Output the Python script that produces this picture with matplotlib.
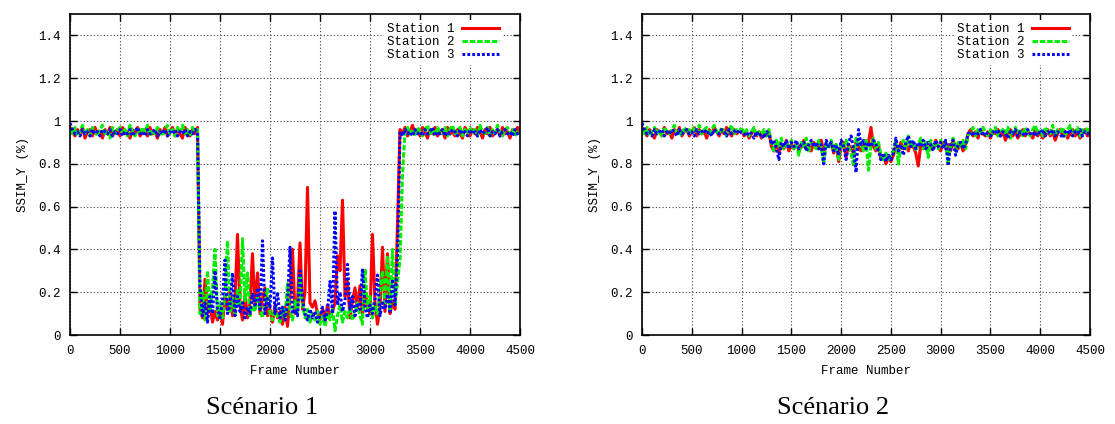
import numpy as np
import matplotlib
matplotlib.use('agg')
import matplotlib.pyplot as plt
from matplotlib.ticker import FuncFormatter

# frame numbers, one sample every 25 frames (0 .. 4500)
frames = np.arange(0, 4501, 25)

labels = ['Station 1', 'Station 2', 'Station 3']

# scenario 1 : SSIM_Y
s1_station1 = [
	0.97, 0.95, 0.93, 0.96, 0.94, 0.97, 0.92, 0.95, 0.96, 0.93, 0.97, 0.94, 0.95, 0.92, 0.96, 0.94, 0.97, 0.93, 0.95, 0.96,
	0.93, 0.97, 0.94, 0.95, 0.92, 0.96, 0.94, 0.97, 0.93, 0.95, 0.96, 0.93, 0.97, 0.94, 0.95, 0.92, 0.96, 0.94, 0.97, 0.93,
	0.95, 0.97, 0.93, 0.96, 0.94, 0.92, 0.97, 0.95, 0.93, 0.96, 0.94, 0.97, 0.12, 0.08, 0.26, 0.10, 0.14, 0.06, 0.11, 0.07,
	0.13, 0.05, 0.18, 0.12, 0.20, 0.09, 0.16, 0.47, 0.14, 0.07, 0.19, 0.08, 0.15, 0.38, 0.12, 0.29, 0.10, 0.17, 0.22, 0.09,
	0.12, 0.06, 0.14, 0.08, 0.11, 0.05, 0.13, 0.04, 0.18, 0.40, 0.10, 0.15, 0.43, 0.12, 0.20, 0.69, 0.15, 0.13, 0.16, 0.10,
	0.07, 0.12, 0.06, 0.14, 0.09, 0.11, 0.15, 0.37, 0.30, 0.63, 0.18, 0.25, 0.08, 0.16, 0.22, 0.12, 0.23, 0.10, 0.20, 0.14,
	0.10, 0.47, 0.15, 0.05, 0.13, 0.41, 0.11, 0.38, 0.10, 0.16, 0.12, 0.51, 0.96, 0.94, 0.97, 0.93, 0.95, 0.98, 0.94, 0.96,
	0.93, 0.97, 0.95, 0.92, 0.96, 0.94, 0.97, 0.93, 0.95, 0.96, 0.92, 0.97, 0.94, 0.95, 0.93, 0.96, 0.94, 0.92, 0.97, 0.95,
	0.93, 0.96, 0.94, 0.97, 0.95, 0.92, 0.96, 0.94, 0.97, 0.93, 0.95, 0.96, 0.93, 0.97, 0.94, 0.95, 0.92, 0.96, 0.94, 0.97,
	0.95]
s1_station2 = [
	0.96, 0.94, 0.97, 0.93, 0.95, 0.98, 0.94, 0.96, 0.93, 0.97, 0.95, 0.93, 0.96, 0.98, 0.94, 0.95, 0.92, 0.97, 0.94, 0.96,
	0.97, 0.94, 0.96, 0.93, 0.98, 0.95, 0.93, 0.96, 0.94, 0.97, 0.95, 0.98, 0.93, 0.96, 0.94, 0.97, 0.95, 0.93, 0.96, 0.98,
	0.94, 0.96, 0.93, 0.97, 0.95, 0.98, 0.94, 0.96, 0.93, 0.97, 0.95, 0.96, 0.10, 0.20, 0.07, 0.30, 0.12, 0.22, 0.40, 0.09,
	0.15, 0.08, 0.19, 0.44, 0.11, 0.17, 0.10, 0.21, 0.13, 0.45, 0.16, 0.29, 0.09, 0.14, 0.11, 0.18, 0.12, 0.08, 0.15, 0.22,
	0.10, 0.07, 0.13, 0.09, 0.06, 0.12, 0.08, 0.24, 0.11, 0.07, 0.16, 0.10, 0.27, 0.14, 0.08, 0.12, 0.06, 0.10, 0.07, 0.11,
	0.05, 0.09, 0.04, 0.10, 0.07, 0.12, 0.02, 0.09, 0.14, 0.06, 0.11, 0.08, 0.13, 0.07, 0.10, 0.15, 0.09, 0.05, 0.31, 0.12,
	0.18, 0.08, 0.14, 0.10, 0.21, 0.30, 0.15, 0.37, 0.12, 0.40, 0.14, 0.25, 0.35, 0.75, 0.95, 0.97, 0.94, 0.96, 0.93, 0.97,
	0.95, 0.93, 0.96, 0.98, 0.94, 0.96, 0.93, 0.97, 0.95, 0.94, 0.97, 0.93, 0.96, 0.98, 0.94, 0.95, 0.97, 0.93, 0.96, 0.94,
	0.97, 0.94, 0.96, 0.93, 0.98, 0.95, 0.94, 0.97, 0.93, 0.96, 0.94, 0.98, 0.95, 0.93, 0.96, 0.97, 0.94, 0.96, 0.93, 0.95,
	0.96]
s1_station3 = [
	0.99, 0.96, 0.94, 0.95, 0.93, 0.96, 0.94, 0.95, 0.93, 0.96, 0.94, 0.95, 0.93, 0.96, 0.95, 0.94, 0.96, 0.93, 0.95, 0.94,
	0.96, 0.93, 0.95, 0.94, 0.96, 0.93, 0.95, 0.97, 0.94, 0.95, 0.93, 0.96, 0.94, 0.95, 0.96, 0.93, 0.95, 0.94, 0.96, 0.93,
	0.95, 0.94, 0.96, 0.93, 0.95, 0.94, 0.96, 0.93, 0.95, 0.94, 0.96, 0.95, 0.23, 0.09, 0.15, 0.06, 0.18, 0.10, 0.30, 0.12,
	0.08, 0.16, 0.35, 0.10, 0.14, 0.29, 0.09, 0.18, 0.11, 0.15, 0.08, 0.13, 0.10, 0.19, 0.14, 0.22, 0.12, 0.44, 0.10, 0.17,
	0.13, 0.36, 0.10, 0.20, 0.08, 0.13, 0.07, 0.15, 0.41, 0.10, 0.12, 0.09, 0.30, 0.17, 0.10, 0.07, 0.12, 0.08, 0.11, 0.06,
	0.09, 0.13, 0.07, 0.11, 0.25, 0.10, 0.58, 0.14, 0.20, 0.11, 0.16, 0.33, 0.12, 0.18, 0.09, 0.15, 0.12, 0.31, 0.13, 0.08,
	0.14, 0.10, 0.17, 0.28, 0.09, 0.15, 0.12, 0.19, 0.11, 0.26, 0.14, 0.38, 0.95, 0.93, 0.96, 0.94, 0.95, 0.93, 0.96, 0.94,
	0.95, 0.93, 0.96, 0.94, 0.95, 0.97, 0.93, 0.95, 0.94, 0.96, 0.93, 0.95, 0.94, 0.96, 0.95, 0.93, 0.96, 0.94, 0.95, 0.93,
	0.96, 0.94, 0.95, 0.93, 0.96, 0.94, 0.95, 0.97, 0.93, 0.95, 0.94, 0.96, 0.93, 0.95, 0.96, 0.94, 0.95, 0.93, 0.96, 0.94,
	0.95]

# scenario 2
s2_station1 = [
	0.97, 0.95, 0.93, 0.96, 0.94, 0.92, 0.96, 0.95, 0.93, 0.97, 0.94, 0.95, 0.92, 0.96, 0.94, 0.97, 0.93, 0.95, 0.96, 0.93,
	0.95, 0.97, 0.93, 0.96, 0.94, 0.95, 0.92, 0.96, 0.94, 0.97, 0.95, 0.93, 0.96, 0.94, 0.97, 0.95, 0.93, 0.96, 0.94, 0.95,
	0.96, 0.93, 0.95, 0.92, 0.94, 0.96, 0.93, 0.95, 0.92, 0.94, 0.93, 0.95, 0.88, 0.86, 0.90, 0.85, 0.89, 0.87, 0.91, 0.86,
	0.89, 0.87, 0.90, 0.86, 0.88, 0.91, 0.87, 0.89, 0.86, 0.90, 0.88, 0.87, 0.91, 0.86, 0.89, 0.88, 0.90, 0.85, 0.89, 0.81,
	0.88, 0.90, 0.83, 0.89, 0.87, 0.85, 0.90, 0.88, 0.86, 0.89, 0.87, 0.90, 0.97, 0.88, 0.86, 0.89, 0.82, 0.84, 0.80, 0.83,
	0.81, 0.84, 0.88, 0.85, 0.90, 0.87, 0.89, 0.86, 0.90, 0.88, 0.85, 0.79, 0.89, 0.87, 0.90, 0.86, 0.89, 0.87, 0.91, 0.88,
	0.86, 0.90, 0.87, 0.89, 0.86, 0.91, 0.88, 0.87, 0.90, 0.86, 0.89, 0.94, 0.96, 0.93, 0.95, 0.92, 0.96, 0.94, 0.93, 0.95,
	0.92, 0.95, 0.94, 0.96, 0.93, 0.95, 0.91, 0.94, 0.96, 0.93, 0.95, 0.92, 0.94, 0.96, 0.93, 0.95, 0.94, 0.92, 0.96, 0.93,
	0.95, 0.92, 0.94, 0.96, 0.93, 0.95, 0.91, 0.94, 0.96, 0.93, 0.95, 0.92, 0.94, 0.96, 0.93, 0.95, 0.92, 0.94, 0.96, 0.93,
	0.94]
s2_station2 = [
	0.96, 0.94, 0.97, 0.93, 0.95, 0.97, 0.94, 0.96, 0.93, 0.97, 0.95, 0.94, 0.96, 0.98, 0.94, 0.95, 0.93, 0.97, 0.95, 0.96,
	0.94, 0.97, 0.95, 0.98, 0.94, 0.96, 0.97, 0.93, 0.96, 0.98, 0.95, 0.94, 0.97, 0.95, 0.93, 0.96, 0.98, 0.94, 0.96, 0.95,
	0.97, 0.94, 0.96, 0.93, 0.95, 0.97, 0.93, 0.95, 0.94, 0.96, 0.93, 0.96, 0.90, 0.86, 0.91, 0.88, 0.92, 0.87, 0.90, 0.88,
	0.91, 0.87, 0.89, 0.84, 0.90, 0.88, 0.92, 0.86, 0.90, 0.89, 0.87, 0.91, 0.88, 0.80, 0.90, 0.87, 0.91, 0.86, 0.89, 0.82,
	0.90, 0.87, 0.91, 0.88, 0.85, 0.79, 0.92, 0.88, 0.90, 0.86, 0.91, 0.77, 0.89, 0.92, 0.87, 0.90, 0.84, 0.81, 0.85, 0.82,
	0.84, 0.86, 0.91, 0.80, 0.88, 0.91, 0.87, 0.93, 0.88, 0.90, 0.86, 0.89, 0.92, 0.87, 0.90, 0.83, 0.91, 0.88, 0.90, 0.87,
	0.91, 0.88, 0.90, 0.80, 0.89, 0.92, 0.86, 0.90, 0.88, 0.91, 0.87, 0.93, 0.95, 0.97, 0.93, 0.96, 0.94, 0.97, 0.95, 0.93,
	0.96, 0.94, 0.97, 0.93, 0.95, 0.96, 0.94, 0.97, 0.92, 0.95, 0.97, 0.94, 0.96, 0.93, 0.97, 0.95, 0.93, 0.96, 0.98, 0.94,
	0.96, 0.93, 0.97, 0.95, 0.94, 0.98, 0.93, 0.96, 0.95, 0.97, 0.93, 0.96, 0.98, 0.94, 0.95, 0.97, 0.93, 0.96, 0.94, 0.97,
	0.95]
s2_station3 = [
	0.99, 0.96, 0.94, 0.95, 0.93, 0.96, 0.94, 0.95, 0.96, 0.93, 0.95, 0.94, 0.96, 0.95, 0.93, 0.96, 0.94, 0.95, 0.96, 0.94,
	0.95, 0.93, 0.96, 0.94, 0.95, 0.96, 0.94, 0.95, 0.93, 0.96, 0.95, 0.94, 0.96, 0.95, 0.93, 0.96, 0.94, 0.95, 0.96, 0.94,
	0.95, 0.94, 0.93, 0.95, 0.94, 0.92, 0.95, 0.93, 0.94, 0.92, 0.95, 0.94, 0.89, 0.91, 0.87, 0.82, 0.90, 0.88, 0.91, 0.87,
	0.90, 0.88, 0.91, 0.87, 0.89, 0.90, 0.86, 0.89, 0.91, 0.88, 0.90, 0.87, 0.89, 0.80, 0.91, 0.88, 0.90, 0.86, 0.89, 0.84,
	0.91, 0.88, 0.82, 0.90, 0.93, 0.87, 0.76, 0.96, 0.89, 0.91, 0.87, 0.90, 0.88, 0.91, 0.89, 0.86, 0.82, 0.85, 0.81, 0.84,
	0.82, 0.85, 0.92, 0.86, 0.89, 0.84, 0.90, 0.93, 0.88, 0.91, 0.87, 0.90, 0.88, 0.91, 0.87, 0.90, 0.89, 0.86, 0.91, 0.88,
	0.90, 0.87, 0.91, 0.80, 0.89, 0.91, 0.84, 0.89, 0.90, 0.87, 0.89, 0.94, 0.95, 0.93, 0.95, 0.94, 0.96, 0.93, 0.95, 0.94,
	0.93, 0.95, 0.94, 0.96, 0.93, 0.95, 0.94, 0.92, 0.95, 0.94, 0.96, 0.93, 0.95, 0.94, 0.93, 0.96, 0.94, 0.95, 0.93, 0.95,
	0.94, 0.96, 0.93, 0.95, 0.94, 0.96, 0.93, 0.95, 0.94, 0.92, 0.95, 0.94, 0.96, 0.93, 0.95, 0.94, 0.96, 0.93, 0.95, 0.94,
	0.95]

scenarios = ['Scénario 1', 'Scénario 2']
y_ticks = [0, 0.2, 0.4, 0.6, 0.8, 1.0, 1.2, 1.4]
x_ticks = [0, 500, 1000, 1500, 2000, 2500, 3000, 3500, 4000, 4500]

MONO = 'Liberation Mono'
FS = 9

#gnuplot-like line styles: red solid, green dashed, blue dotted
styles = [
	dict(color='#ff0000', lw=2.2, linestyle='-'),
	dict(color='#00ee00', lw=2.2, linestyle=(0, (1.8, 0.6))),
	dict(color='#0000ff', lw=2.2, linestyle=(0, (0.9, 0.7))),
]

fig = plt.figure(figsize=(11.15, 4.24), dpi=100)
W, H = 1115.0, 424.0

#axes boxes in pixels: (left, right), top 14, bottom 335
boxes = [(70, 520), (642, 1090)]
data = [[s1_station1, s1_station2, s1_station3], [s2_station1, s2_station2, s2_station3]]

for k, (l, r) in enumerate(boxes):
	ax = fig.add_axes([l / W, (H - 335) / H, (r - l) / W, (335 - 14) / H])
	for series, st, lab in zip(data[k], styles, labels):
		ax.plot(frames, series, label=lab, **st)

	ax.set_xlim(0, 4500)
	ax.set_ylim(0, 1.5)
	ax.set_xticks(x_ticks)
	ax.set_yticks(y_ticks)
	ax.yaxis.set_major_formatter(FuncFormatter(lambda v, p: '%g' % v))
	ax.grid(True, color='0.25', linestyle=(0, (1, 2)), lw=0.8)
	ax.set_axisbelow(True)
	ax.tick_params(direction='in', top=True, right=True, length=5, width=1, pad=7)
	for t in ax.get_xticklabels() + ax.get_yticklabels():
		t.set_fontfamily(MONO)
		t.set_fontsize(FS)
	for sp in ax.spines.values():
		sp.set_linewidth(1.2)

	ax.set_xlabel('Frame Number', fontfamily=MONO, fontsize=FS, labelpad=6)
	ax.set_ylabel('SSIM_Y (%)', fontfamily=MONO, fontsize=FS, labelpad=6)

	#legend without frame but opaque, like gnuplot's key
	leg = ax.legend(loc='upper right', bbox_to_anchor=(1 - 12.0 / (r - l), 1), markerfirst=False,
		prop={'family': MONO, 'size': FS},
		handlelength=2.9, handletextpad=0.6, labelspacing=0.08, borderpad=0.25,
		borderaxespad=0.5, fancybox=False, framealpha=1, facecolor='white', edgecolor='none')

	fig.text(((l + r) / 2.0 - 33) / W, 1 - 408 / H, scenarios[k], ha='center', va='center',
		fontfamily='Liberation Serif', fontsize=19)

plt.savefig('out.png', dpi=100)
